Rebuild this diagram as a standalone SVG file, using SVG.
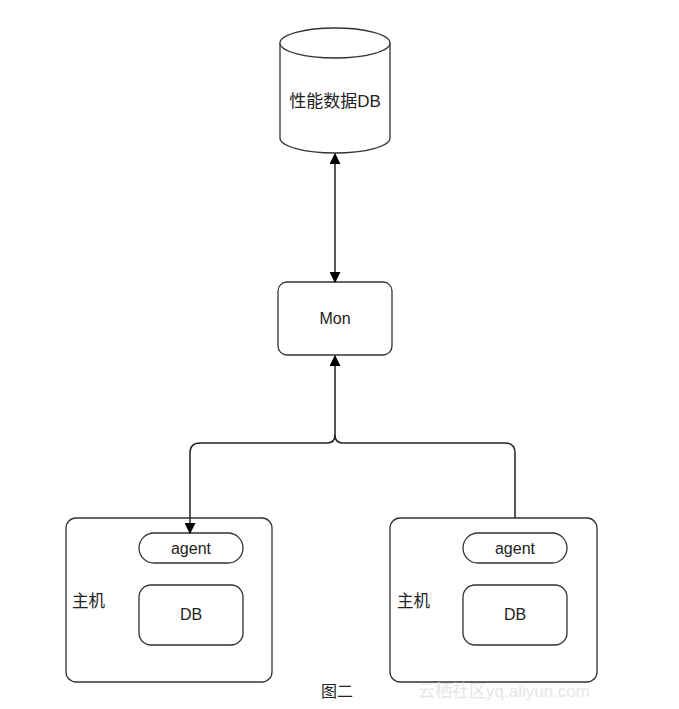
<svg xmlns="http://www.w3.org/2000/svg" width="679" height="709" viewBox="0 0 679 709">
<defs>
<marker id="arr" viewBox="0 0 10 10" refX="9" refY="5" markerWidth="11" markerHeight="11" markerUnits="userSpaceOnUse" orient="auto-start-reverse">
<path d="M0,0 L10,5 L0,10 z" fill="#000"/>
</marker>
<style>
.box{fill:#fff;stroke:#333;stroke-width:1.3}
.t{font-family:"Liberation Sans","Noto Sans CJK SC",sans-serif;font-size:16px;fill:#222;text-anchor:middle;dominant-baseline:central}
.tl{font-family:"Liberation Sans","Noto Sans CJK SC",sans-serif;font-size:16.5px;fill:#222;dominant-baseline:central}
.c{fill:none;stroke:#222;stroke-width:1.5}
</style>
</defs>
<rect width="679" height="709" fill="#fff"/>
<g id="perfdb">
<path class="box" d="M280,43 A55,15 0 0 1 390,43 L390,138 A55,15 0 0 1 280,138 Z"/>
<path class="box" d="M280,43 A55,15 0 0 0 390,43"/>
<text class="t" x="335" y="101" style="font-size:17px">性能数据DB</text>
</g>
<g id="mon">
<rect class="box" x="278" y="282" width="114" height="73" rx="9"/>
<text class="t" x="335" y="318">Mon</text>
</g>
<g id="host1">
<rect class="box" x="66" y="518" width="206" height="164" rx="10"/>
<text class="tl" x="72" y="601">主机</text>
</g>
<g id="agent1">
<rect class="box" x="139" y="533" width="104" height="30" rx="15"/>
<text class="t" x="191" y="548">agent</text>
</g>
<g id="db1">
<rect class="box" x="139" y="585" width="104" height="60" rx="12"/>
<text class="t" x="191" y="614">DB</text>
</g>
<g id="host2">
<rect class="box" x="390" y="518" width="207" height="164" rx="10"/>
<text class="tl" x="397" y="601">主机</text>
</g>
<g id="agent2">
<rect class="box" x="463" y="533" width="104" height="30" rx="15"/>
<text class="t" x="515" y="548">agent</text>
</g>
<g id="db2">
<rect class="box" x="463" y="585" width="104" height="60" rx="12"/>
<text class="t" x="515" y="614">DB</text>
</g>
<g id="connectors">
<path class="c" d="M335,154 L335,282" marker-start="url(#arr)" marker-end="url(#arr)"/>
<path class="c" d="M335,356 L335,435 Q335,443 327,443 L200,443 Q190,443 190,453 L190,533" marker-start="url(#arr)" marker-end="url(#arr)"/>
<path class="c" d="M335,435 Q335,443 343,443 L505,443 Q515,443 515,453 L515,518"/>
</g>
<text class="t" x="337" y="691">图二</text>
<text x="418" y="691" style="font-family:'Liberation Sans','Noto Sans CJK SC',sans-serif;font-size:17px;fill:#e6e6e6;dominant-baseline:central">云栖社区yq.aliyun.com</text>
</svg>
